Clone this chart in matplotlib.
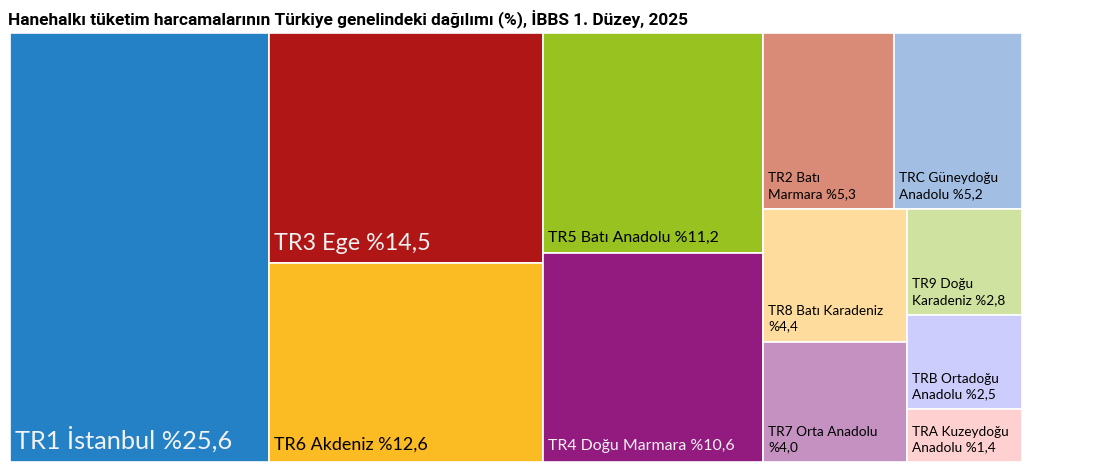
import numpy as np
import matplotlib
matplotlib.use("Agg")
import matplotlib.pyplot as plt
from matplotlib.patches import Rectangle

plt.rcParams['font.family'] = ['Lato', 'DejaVu Sans']

# data
regions = ["TR1 İstanbul", "TR3 Ege", "TR6 Akdeniz", "TR5 Batı Anadolu",
           "TR4 Doğu Marmara", "TR2 Batı\nMarmara", "TRC Güneydoğu\nAnadolu",
           "TR8 Batı Karadeniz\n", "TR7 Orta Anadolu\n", "TR9 Doğu\nKaradeniz",
           "TRB Ortadoğu\nAnadolu", "TRA Kuzeydoğu\nAnadolu"]
shares = [25.6, 14.5, 12.6, 11.2, 10.6, 5.3, 5.2, 4.4, 4.0, 2.8, 2.5, 1.4]
colors = ["#2581C5", "#B01616", "#FBBB22", "#97C21F", "#931B80", "#D98B77",
          "#A3BEE3", "#FEDC9D", "#C591C1", "#CFE29F", "#CCCCFD", "#FFD0D0"]
title = "Hanehalkı tüketim harcamalarının Türkiye genelindeki dağılımı (%), İBBS 1. Düzey, 2025"

# label style per box
font_sizes = [18.3, 16.8, 12.9, 11.4, 11.4, 9.8, 9.8, 9.8, 9.8, 9.8, 9.8, 9.8]
text_colors = ["#F2F2F2", "#F2F2F2", "black", "black", "#F2F2F2"] + ["black"] * 7


def worst(row, side):
    s = sum(row)
    return max(max(side**2 * r / s**2, s**2 / (side**2 * r)) for r in row)


def layout_row(row, x, y, w, h):
    s = sum(row)
    rects = []
    if w >= h:  # column on the left
        cw = s / h
        yy = y + h
        for r in row:
            rh = r / cw
            yy -= rh
            rects.append((x, yy, cw, rh))
        return rects, (x + cw, y, w - cw, h)
    else:  # row on top
        rh = s / w
        xx = x
        for r in row:
            rw = r / rh
            rects.append((xx, y + h - rh, rw, rh))
            xx += rw
        return rects, (x, y, w, h - rh)


def squarify(values, x, y, w, h):
    total = sum(values)
    areas = [v * w * h / total for v in values]
    out = []
    rect = (x, y, w, h)
    row = []
    i = 0
    while i < len(areas):
        side = min(rect[2], rect[3])
        a = areas[i]
        if not row or worst(row + [a], side) <= worst(row, side):
            row.append(a)
            i += 1
        else:
            r, rect = layout_row(row, *rect)
            out += r
            row = []
    if row:
        r, rect = layout_row(row, *rect)
        out += r
    return out


W, H = 1012.0, 429.0
boxes = squarify(shares, 0, 0, W, H)

fig = plt.figure(figsize=(11.12, 4.75), dpi=100)
ax = fig.add_axes([10 / 1112, 13 / 475, W / 1112, H / 475])
ax.set_xlim(0, W)
ax.set_ylim(0, H)
ax.axis('off')

for (bx, by, bw, bh), name, v, c, fs, tc in zip(boxes, regions, shares, colors, font_sizes, text_colors):
    ax.add_patch(Rectangle((bx, by), bw, bh, facecolor=c, edgecolor='white', linewidth=1.2))
    label = name + ("" if name.endswith("\n") else " ") + "%" + f"{v:.1f}".replace('.', ',')
    ax.text(bx + 5, by + 9, label, fontsize=fs, color=tc, ha='left', va='bottom',
            linespacing=1.35)

fig.text(8 / 1112, 1 - 20 / 475, title, fontsize=12.4, fontweight='bold',
         family='Roboto', ha='left', va='center')

plt.savefig("out.png", dpi=100)
